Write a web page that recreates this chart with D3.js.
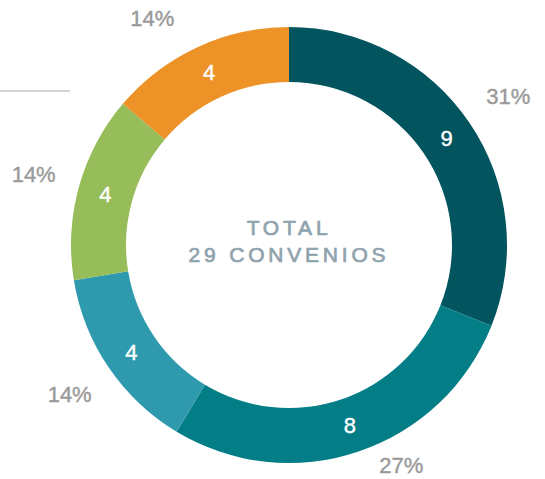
<!DOCTYPE html>
<html>
<head>
<meta charset="utf-8">
<script src="https://cdn.jsdelivr.net/npm/d3@7"></script>
<style>
  body { margin: 0; background: #fff; }
  svg { display: block; font-family: "Liberation Sans", Arial, sans-serif; }
</style>
</head>
<body>
<svg id="chart" width="545" height="479"></svg>
<script>
// data
var categories = ["A", "B", "C", "D", "E"];
var values = [9, 8, 4, 4, 4];
var percentLabels = ["31%", "27%", "14%", "14%", "14%"];
var totalLines = ["TOTAL", "29 CONVENIOS"];

var colors = ["#02545e", "#037d86", "#2f9aae", "#96bd59", "#ec9227"];

var width = 545, height = 479;
var cx = 289, cy = 245;
var outer = 218, inner = 163;
var labelR = 265;

var svg = d3.select("#chart");

// the little rule at the top left
svg.append("line")
    .attr("x1", 0).attr("x2", 70)
    .attr("y1", 91).attr("y2", 91)
    .attr("stroke", "#aaaaaa")
    .attr("stroke-width", 1.2);

var g = svg.append("g").attr("transform", "translate(" + cx + "," + cy + ")");

var pie = d3.pie().sort(null).value(d => d);
var arcs = pie(values);

var arc = d3.arc().innerRadius(inner).outerRadius(outer);

g.selectAll("path").data(arcs).enter().append("path")
    .attr("d", arc)
    .attr("fill", (d, i) => colors[i]);

// value inside the ring
g.selectAll("text.val").data(arcs).enter().append("text")
    .attr("class", "val")
    .attr("transform", d => "translate(" + arc.centroid(d) + ")")
    .attr("text-anchor", "middle")
    .attr("dy", "0.36em")
    .attr("fill", "#fff")
    .attr("stroke", "#fff")
    .attr("stroke-width", 0.4)
    .attr("font-size", 22)
    .text(d => d.data);

// percentages outside, kept inside the picture
var yMin = 18 - cy, yMax = 465 - cy;
function pctPos(d) {
  var a = (d.startAngle + d.endAngle) / 2;
  var x = Math.sin(a) * labelR, y = -Math.cos(a) * labelR;
  if (y < yMin || y > yMax) {
    var r = y > yMax ? outer + 29 : labelR;
    y = y < yMin ? yMin : yMax;
    x = Math.sign(x) * Math.sqrt(Math.max(0, r * r - y * y));
  }
  return [x, y];
}

g.selectAll("text.pct").data(arcs).enter().append("text")
    .attr("class", "pct")
    .attr("transform", d => "translate(" + pctPos(d) + ")")
    .attr("text-anchor", "middle")
    .attr("dy", "0.36em")
    .attr("fill", "#999999")
    .attr("stroke", "#999999")
    .attr("stroke-width", 0.4)
    .attr("font-size", 22)
    .text((d, i) => percentLabels[i]);

// total in the middle
g.selectAll("text.total").data(totalLines).enter().append("text")
    .attr("class", "total")
    .attr("text-anchor", "middle")
    .attr("y", (d, i) => -10 + i * 27)
    .attr("fill", "#8fa3ad")
    .attr("stroke", "#8fa3ad")
    .attr("stroke-width", 0.7)
    .attr("font-size", 21)
    .attr("letter-spacing", 3.8)
    .text(d => d);
</script>
</body>
</html>
